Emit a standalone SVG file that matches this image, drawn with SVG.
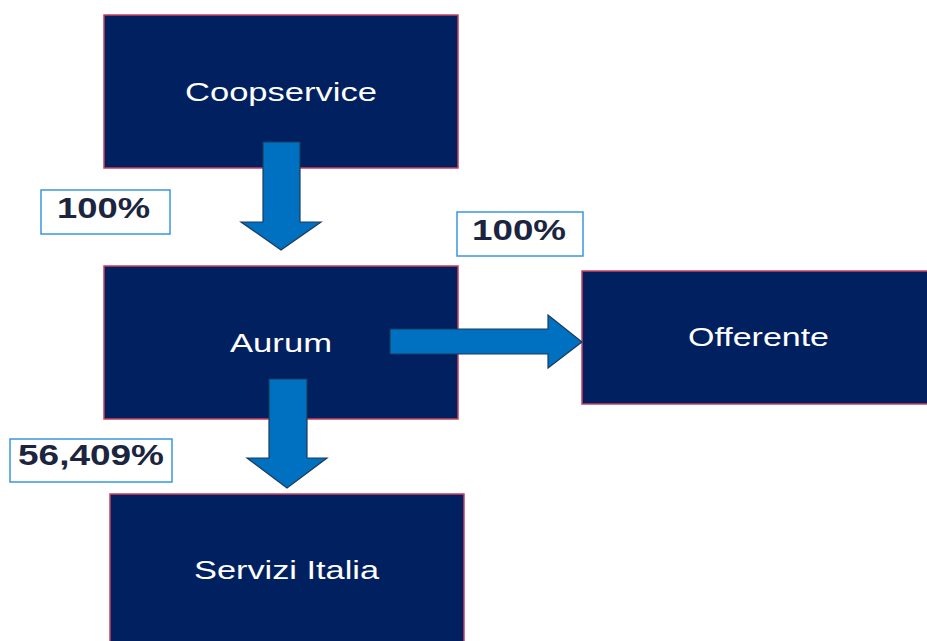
<svg xmlns="http://www.w3.org/2000/svg" width="927" height="641" viewBox="0 0 927 641">
<defs>
<style>
.node{fill:#002060;stroke:#c8415c;stroke-width:1.5}
.nt{fill:#ffffff;font-family:"Liberation Sans",Arial,sans-serif;font-size:26px;text-anchor:middle}
.arrow{fill:#0070c0;stroke:#1d3b5c;stroke-width:1.2;stroke-linejoin:miter}
.lb{fill:#ffffff;stroke:#3a97e0;stroke-width:1.5}
.lt{fill:#1c2540;font-family:"Liberation Sans",Arial,sans-serif;font-weight:bold;font-size:30px;text-anchor:middle}
</style>
</defs>
<rect width="927" height="641" fill="#ffffff"/>
<g id="coopservice">
<rect class="node" x="104" y="15" width="354" height="153"/>
<text class="nt" x="281" y="101" textLength="192" lengthAdjust="spacingAndGlyphs">Coopservice</text>
</g>
<g id="aurum">
<rect class="node" x="104" y="266" width="354" height="153"/>
<text class="nt" x="281" y="352" textLength="102" lengthAdjust="spacingAndGlyphs">Aurum</text>
</g>
<g id="offerente">
<rect class="node" x="582" y="271" width="354" height="133"/>
<text class="nt" x="758.5" y="346" textLength="141" lengthAdjust="spacingAndGlyphs">Offerente</text>
</g>
<g id="servizi-italia">
<rect class="node" x="110" y="494" width="354" height="160"/>
<text class="nt" x="286.5" y="579" textLength="185" lengthAdjust="spacingAndGlyphs">Servizi Italia</text>
</g>
<g id="connectors">
<polygon class="arrow" points="263,142 300,142 300,222 321,222 281,250 241,222 263,222"/>
<polygon class="arrow" points="390,329 548,329 548,315 582,342 548,368 548,354 390,354"/>
<polygon class="arrow" points="269,379 307,379 307,458 327,458 287,488 247,458 269,458"/>
</g>
<g id="label-coop-aurum">
<rect class="lb" x="41" y="190" width="129" height="44"/>
<text class="lt" x="103.5" y="218" textLength="93" lengthAdjust="spacingAndGlyphs">100%</text>
</g>
<g id="label-aurum-offerente">
<rect class="lb" x="457" y="212" width="126" height="44"/>
<text class="lt" x="519" y="240" textLength="94" lengthAdjust="spacingAndGlyphs">100%</text>
</g>
<g id="label-aurum-servizi">
<rect class="lb" x="10" y="439" width="162" height="43"/>
<text class="lt" x="91" y="465" textLength="146" lengthAdjust="spacingAndGlyphs">56,409%</text>
</g>
</svg>
